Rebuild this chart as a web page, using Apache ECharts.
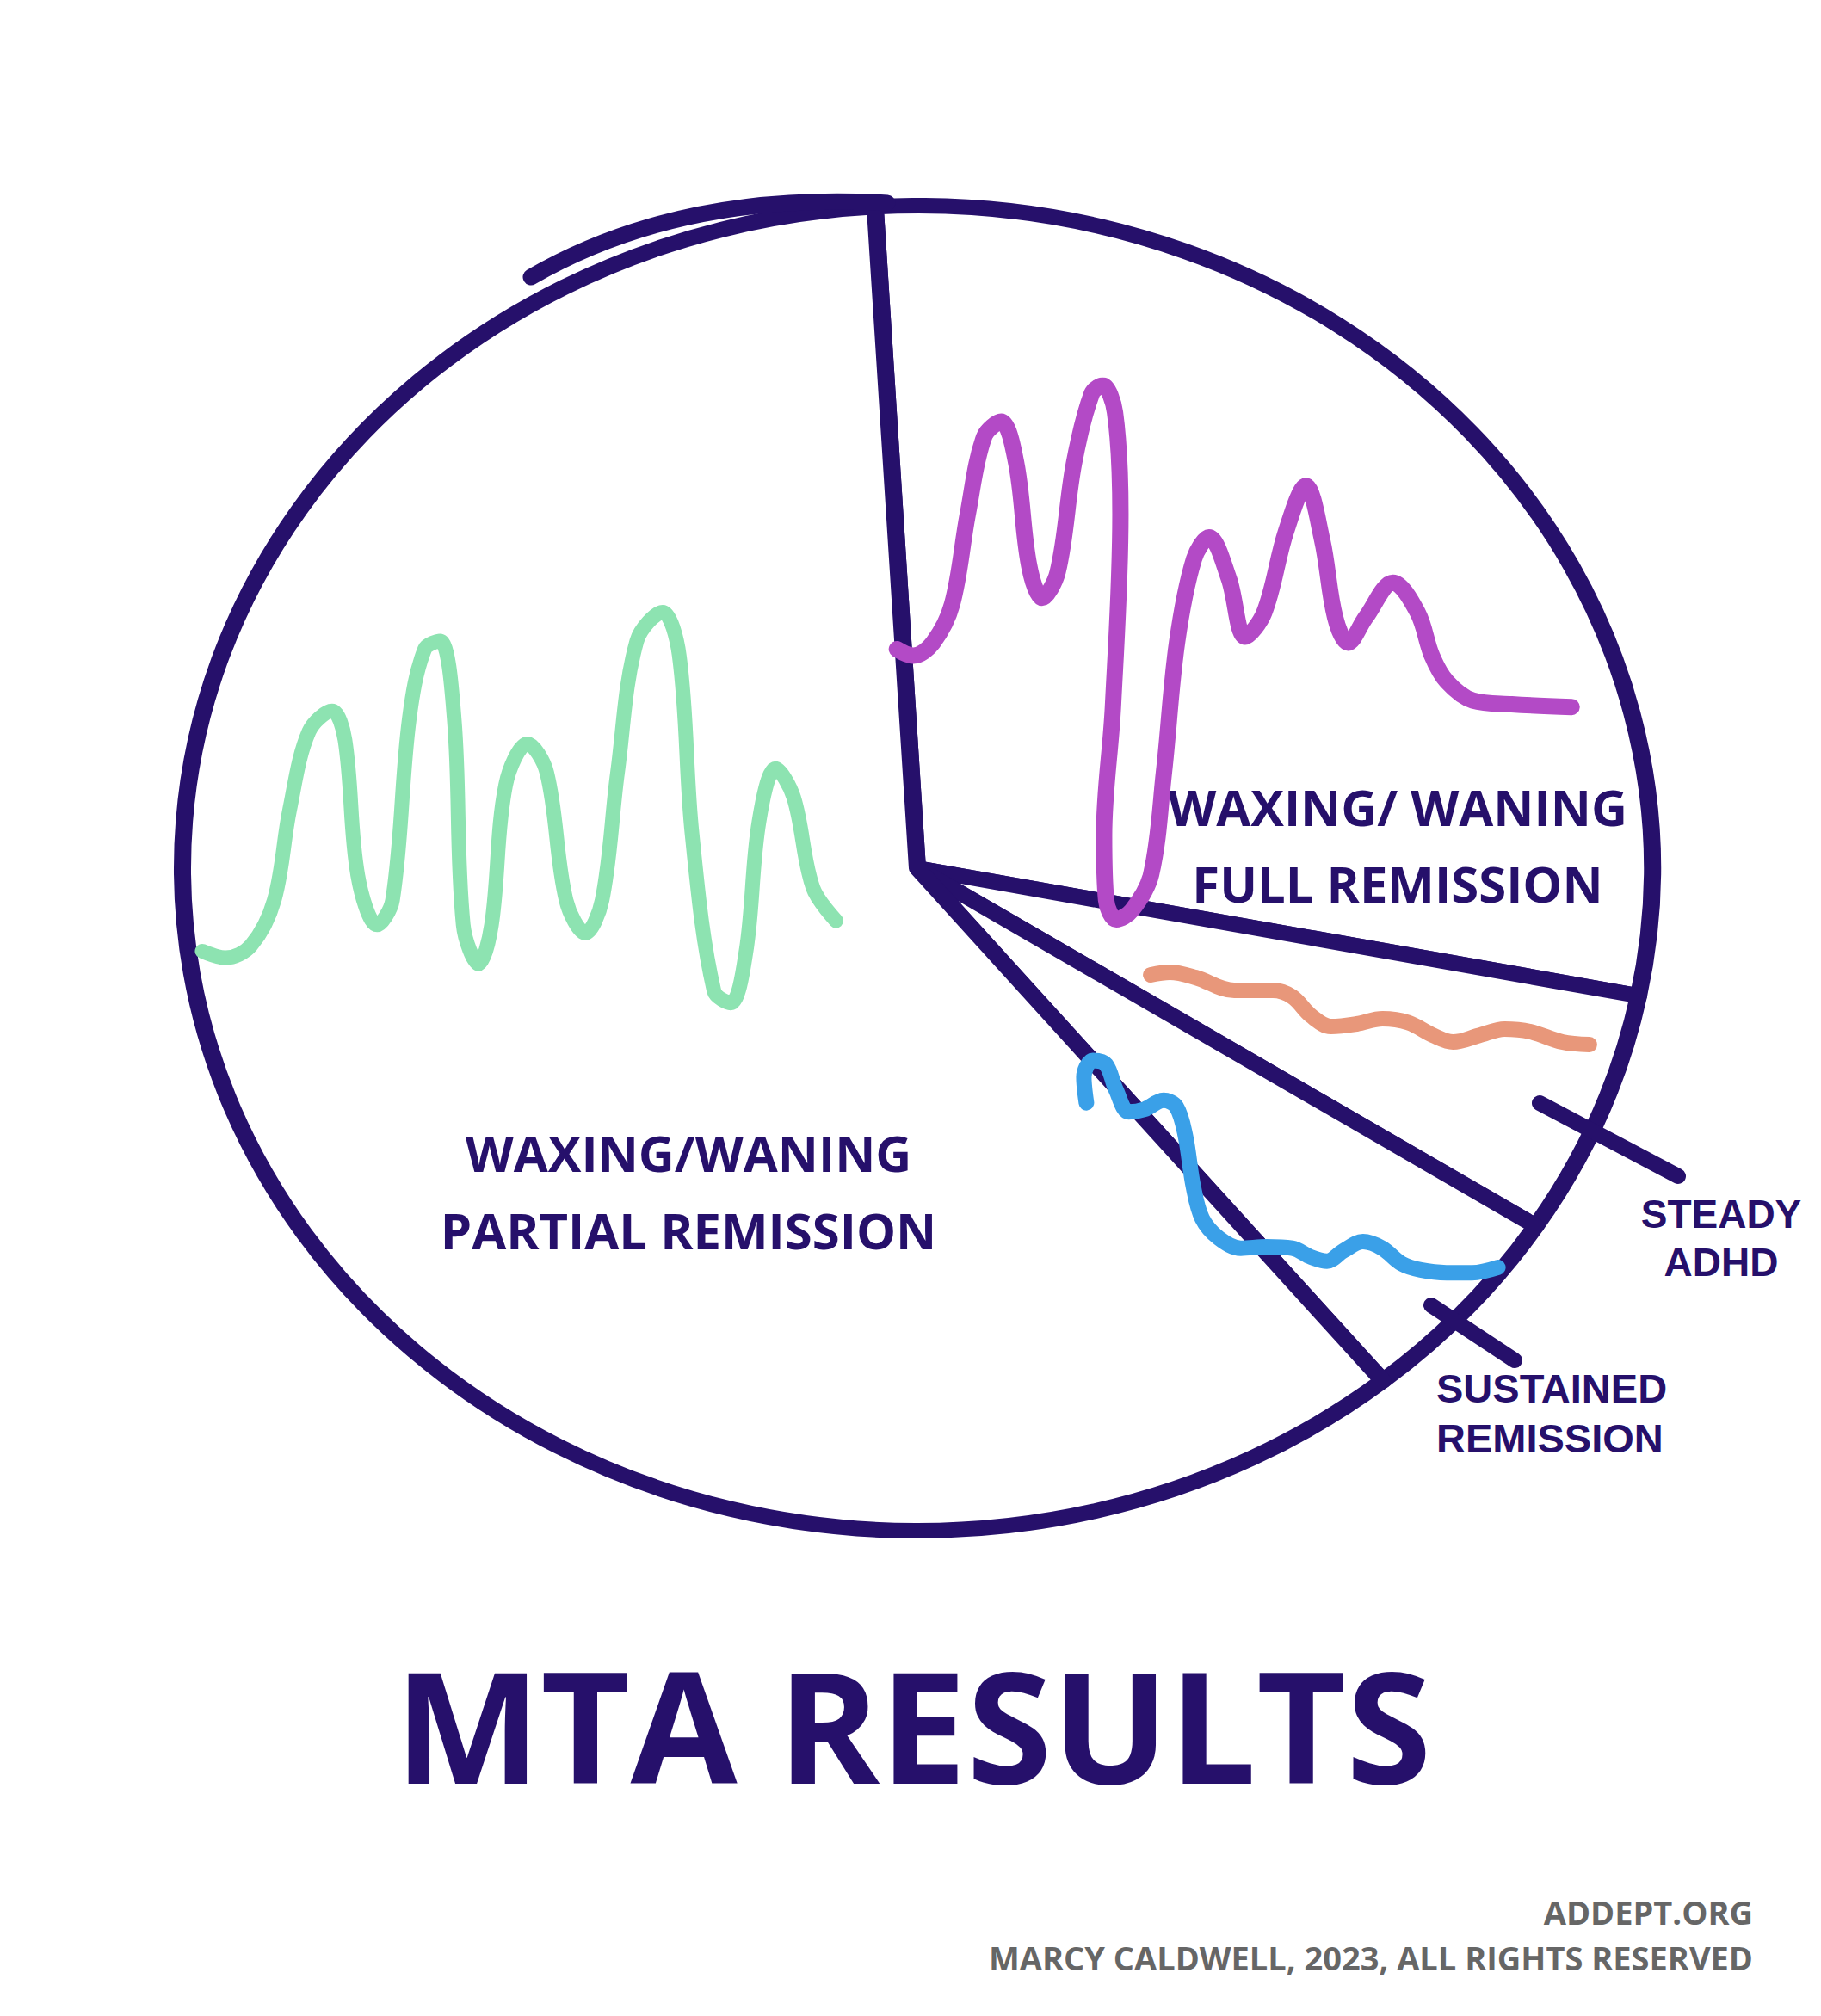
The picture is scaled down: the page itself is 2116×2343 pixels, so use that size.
<!DOCTYPE html>
<html>
<head>
<meta charset="utf-8">
<style>
html, body { margin: 0; padding: 0; background: #fff; }
/* the drawn pie is a slightly flattened circle, so the pie layer gets squeezed vertically */
#pie { position: absolute; left: 0; top: 0; width: 2116px; height: 2343px; transform: scaleY(0.9016); transform-origin: 0 1009px; }
#main { position: absolute; left: 0; top: 0; width: 2116px; height: 2343px; }
</style>
<script src="https://cdn.jsdelivr.net/npm/echarts@6/dist/echarts.min.js"></script>
</head>
<body>
<div id="pie"></div>
<div id="main"></div>
<script>
const ink = '#26106b'
const font = '"Open Sans", "DejaVu Sans", sans-serif'
// tighter line metrics for the small two-line labels
const smallFont = '"Liberation Sans", Arial, sans-serif'

// slices, clockwise from 12 o'clock (share of the pie, %)
const categories = ['Waxing/Waning Full Remission', 'Steady ADHD', 'Sustained Remission', 'Waxing/Waning Partial Remission']
const shares = [29, 6, 5, 60]
const labels = ['WAXING/ WANING\nFULL REMISSION', 'STEADY\nADHD', 'SUSTAINED\nREMISSION', 'WAXING/WANING\nPARTIAL REMISSION']

// symptom course squiggles (time 0-100, severity 0-100)
const partialX = [0.4, 4, 8, 11.6, 14, 17, 20.6, 22.6, 24.6, 27.6, 30, 32.6, 35, 37.4, 39.6, 41, 43.4, 45.4, 47.6, 51, 54, 57, 60, 62.6, 65, 68, 72, 74.6, 76.6, 80, 82.6, 85, 87, 89.6, 92.4, 95.4, 99]
const partialY = [15.6, 14, 17, 28, 50, 69, 74, 67, 34, 22, 28, 72, 89, 91, 72, 22, 12.5, 22, 56, 66, 59, 28, 20, 28, 59, 91, 98, 87.5, 44, 6, 3, 15.6, 47, 60, 53, 31, 23]
const fullX = [0.4, 2.8, 5.7, 8.5, 10.8, 13.2, 15.7, 17.9, 19.8, 21.7, 24, 26.4, 29, 30.6, 32.4, 33.2, 32.1, 30.8, 31.1, 32.6, 34.9, 37.7, 39.6, 41.5, 44, 46.2, 49.1, 51.5, 54.3, 57.5, 60.4, 62.8, 64.7, 66.6, 69.2, 73.2, 76.8, 78.9, 81.1, 84.9, 90.6, 99.4]
const fullY = [51.2, 50, 52.4, 59.5, 76.2, 90.5, 93.3, 85.7, 66.7, 60.7, 65.5, 85.7, 98.5, 100, 95, 76.2, 40.5, 16.7, 4.8, 1.2, 2.9, 9.5, 28.6, 52.4, 67.9, 71.9, 64.3, 53.5, 58, 73, 81.4, 71.4, 57.1, 52.4, 57.1, 63.5, 58, 50, 45.2, 41.7, 41, 40.5]
const steadyX = [0.6, 4.9, 10.7, 19.4, 28.1, 32.5, 36.8, 41.2, 47, 52.8, 58.6, 64.3, 68.7, 74.5, 80.3, 86.1, 93.3, 99.4]
const steadyY = [88.6, 91.4, 85.7, 71.4, 71.4, 64.3, 42.9, 31.4, 34.3, 40, 35.7, 21.4, 14.3, 21.4, 28.6, 25.7, 14.3, 11.4]
const sustainedX = [1.5, 0.9, 3, 6.1, 8.5, 11.5, 15.2, 19.7, 22.7, 24.8, 26.7, 28.8, 32.7, 37.9, 43.9, 50, 54.5, 58.2, 62.1, 66.7, 71.2, 75.8, 80.3, 86.4, 92.4, 98.5]
const sustainedY = [77.8, 88.9, 96.1, 94.4, 83.3, 73.9, 75, 78.9, 76.1, 63.9, 41.7, 27.8, 19.4, 15, 15.6, 15, 11.1, 9.4, 13.9, 17.8, 15, 8.3, 5.6, 4.4, 4.4, 6.7]

const pieChart = echarts.init(document.getElementById('pie'), null, { renderer: 'svg' })
pieChart.setOption({
  animation: false,
  series: [{
    type: 'pie',
    silent: true,
    center: [1066, 1009],
    radius: [0, 854],
    startAngle: 93.3,
    clockwise: true,
    label: { show: false },
    labelLine: { show: false },
    itemStyle: { color: '#fff', borderColor: ink, borderWidth: 20, borderJoin: 'round' },
    data: categories.map((name, i) => ({ name, value: shares[i] }))
  }]
})

// where each squiggle sits, in page pixels
const boxes = [
  { left: 1039, top: 448, width: 792, height: 628 },
  { left: 1334, top: 1121, width: 516, height: 105 },
  { left: 1255, top: 1222, width: 493, height: 269 },
  { left: 232, top: 702, width: 747, height: 478 }
]
const squiggles = [
  { xs: fullX, ys: fullY, color: '#b34ac6', width: 19 },
  { xs: steadyX, ys: steadyY, color: '#e8977a', width: 18 },
  { xs: sustainedX, ys: sustainedY, color: '#3aa0e8', width: 18 },
  { xs: partialX, ys: partialY, color: '#8de3b1', width: 17 }
]

const text = (t, x, y, size, lh, align, color, family) => ({
  type: 'text',
  x, y,
  style: { text: t, font: 'bold ' + size + 'px ' + (family || font), fill: color || ink, align: align || 'center', verticalAlign: 'middle', lineHeight: lh }
})

const chart = echarts.init(document.getElementById('main'), null, { renderer: 'svg' })
chart.setOption({
  animation: false,
  grid: boxes,
  xAxis: boxes.map((b, i) => ({ type: 'value', gridIndex: i, min: 0, max: 100, show: false })),
  yAxis: boxes.map((b, i) => ({ type: 'value', gridIndex: i, min: 0, max: 100, show: false })),
  series: squiggles.map((s, i) => ({
    type: 'line',
    xAxisIndex: i,
    yAxisIndex: i,
    smooth: 0.35,
    symbol: 'none',
    silent: true,
    lineStyle: { color: s.color, width: s.width, cap: 'round', join: 'round' },
    data: s.xs.map((x, j) => [x, s.ys[j]])
  })),
  graphic: [
    // the doubled pen stroke at the top left of the pie
    {
      type: 'bezierCurve',
      shape: { x1: 617, y1: 322, cpx1: 790, cpy1: 222, x2: 1031, y2: 236 },
      style: { stroke: ink, lineWidth: 19, fill: null, lineCap: 'round' }
    },
    // pointers for the two thin slices
    { type: 'line', shape: { x1: 1789, y1: 1282, x2: 1950, y2: 1367 }, style: { stroke: ink, lineWidth: 18, lineCap: 'round' } },
    { type: 'line', shape: { x1: 1663, y1: 1517, x2: 1760, y2: 1581 }, style: { stroke: ink, lineWidth: 18, lineCap: 'round' } },
    text(labels[0], 1624, 982, 58, 89),
    text(labels[1], 2000, 1439, 46, 56, 'center', ink, smallFont),
    text(labels[2], 1669, 1642, 47, 58, 'left', ink, smallFont),
    text(labels[3], 800, 1384, 58, 90),
    text('MTA RESULTS', 1061, 2003, 180, 190),
    text('ADDEPT.ORG', 2037, 2222, 38, 40, 'right', '#666'),
    text('MARCY CALDWELL, 2023, ALL RIGHTS RESERVED', 2037, 2275, 38, 42, 'right', '#666')
  ]
})
</script>
</body>
</html>
